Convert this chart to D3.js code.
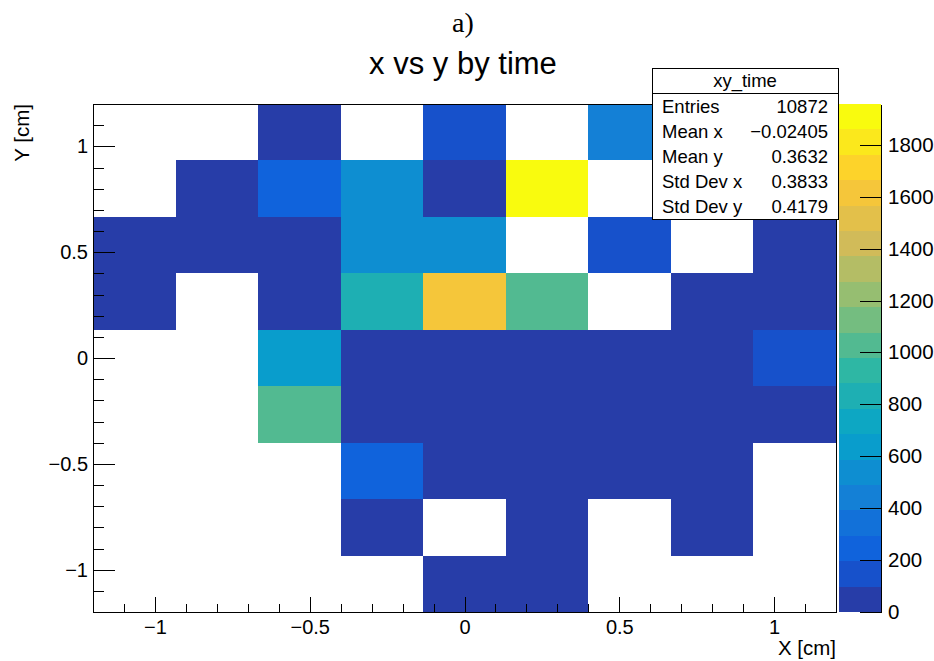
<!DOCTYPE html>
<html>
<head>
<meta charset="utf-8">
<script src="https://cdn.jsdelivr.net/npm/d3@7"></script>
<style>
  body { margin: 0; background: #fff; }
  text { font-family: "Liberation Sans", Arial, sans-serif; fill: #000; }
</style>
</head>
<body>
<div id="chart"></div>
<script>
// bin edges of the 2D histogram
var xBinEdges = [-1.2, -0.9333, -0.6667, -0.4, -0.1333, 0.1333, 0.4, 0.6667, 0.9333, 1.2];
var yBinEdges = [-1.2, -0.9333, -0.6667, -0.4, -0.1333, 0.1333, 0.4, 0.6667, 0.9333, 1.2];

// bin contents, rows from top (highest y) to bottom, columns left to right
var countsTopToBottom = [
  [0,    0,   38,    0,  160,    0,  455,  0,   0],
  [0,   55,  250,  540,   62, 1957,    0,  0,   0],
  [48,  71,   35,  555,  530,    0,  175,  0,  44],
  [60,   0,   52,  835, 1620, 1030,    0, 40,  28],
  [0,    0,  640,   30,   35,   26,   47, 33, 150],
  [0,    0, 1010,   38,   28,   25,   19, 30,  22],
  [0,    0,    0,  245,   21,   16,   19, 18,   0],
  [0,    0,    0,   25,    0,   11,    0, 14,   0],
  [0,    0,    0,    0,   20,   17,    0,  0,   0]
];

var xMajorTicks = [-1, -0.5, 0, 0.5, 1];
var yMajorTicks = [-1, -0.5, 0, 0.5, 1];
var zTicks = [0, 200, 400, 600, 800, 1000, 1200, 1400, 1600, 1800];
var zMax = 1957;
var nContours = 20;

// stats box
var statsTitle = "xy_time";
var statsLabels = ["Entries", "Mean x", "Mean y", "Std Dev x", "Std Dev y"];
var statsValues = ["10872", "\u22120.02405", "0.3632", "0.3833", "0.4179"];

// ROOT kBird palette
var birdStops = [0.0, 0.125, 0.25, 0.375, 0.5, 0.625, 0.75, 0.875, 1.0];
var birdRed   = [0.2082, 0.0592, 0.0780, 0.0232, 0.1802, 0.5301, 0.8186, 0.9956, 0.9764];
var birdGreen = [0.1664, 0.3599, 0.5041, 0.6419, 0.7178, 0.7492, 0.7328, 0.7862, 0.9832];
var birdBlue  = [0.5293, 0.8684, 0.8385, 0.7914, 0.6425, 0.4662, 0.3499, 0.1968, 0.0539];

var width = 934, height = 661;
var frame = { left: 93, right: 836, top: 104, bottom: 612 };
var paletteBox = { x1: 839, x2: 881 };

var svg = d3.select("#chart").append("svg")
  .attr("width", width)
  .attr("height", height);

svg.append("rect").attr("width", width).attr("height", height).attr("fill", "#fff");

var x = d3.scaleLinear().domain([-1.2, 1.2]).range([frame.left, frame.right]);
var y = d3.scaleLinear().domain([-1.2, 1.2]).range([frame.bottom, frame.top]);
var z = d3.scaleLinear().domain([0, zMax]).range([frame.bottom, frame.top]);

var bird = d3.scaleLinear()
  .domain(birdStops)
  .range(birdStops.map(function(s, i) {
    return d3.rgb(birdRed[i] * 255, birdGreen[i] * 255, birdBlue[i] * 255);
  }))
  .interpolate(d3.interpolateRgb);

function bandColor(k) {
  var idx = Math.floor((k + 0.99) * 255 / nContours);
  return bird(idx / 254);
}

function cellColor(v) {
  var k = Math.floor(v / zMax * nContours);
  if (k >= nContours) k = nContours - 1;
  return bandColor(k);
}

// flatten cells
var cells = [];
countsTopToBottom.forEach(function(row, r) {
  var iy = yBinEdges.length - 2 - r;
  row.forEach(function(v, ix) {
    if (v > 0) cells.push({ x0: xBinEdges[ix], x1: xBinEdges[ix + 1], y0: yBinEdges[iy], y1: yBinEdges[iy + 1], v: v });
  });
});

svg.append("g").selectAll("rect")
  .data(cells)
  .enter().append("rect")
  .attr("x", function(d) { return x(d.x0); })
  .attr("y", function(d) { return y(d.y1); })
  .attr("width", function(d) { return x(d.x1) - x(d.x0); })
  .attr("height", function(d) { return y(d.y0) - y(d.y1); })
  .attr("fill", function(d) { return cellColor(d.v); })
  .attr("shape-rendering", "crispEdges");

// frame
svg.append("rect")
  .attr("x", frame.left).attr("y", frame.top)
  .attr("width", frame.right - frame.left)
  .attr("height", frame.bottom - frame.top)
  .attr("fill", "none").attr("stroke", "#000").attr("stroke-width", 1)
  .attr("shape-rendering", "crispEdges");

var xMinor = x.ticks(24).filter(function(t) { return xMajorTicks.indexOf(+t.toFixed(2)) < 0; });
var yMinor = y.ticks(24).filter(function(t) { return yMajorTicks.indexOf(+t.toFixed(2)) < 0; });

var fmt = d3.format("~g");

// x axis
var xMinorAxis = svg.append("g")
  .attr("transform", "translate(0," + frame.bottom + ")")
  .call(d3.axisBottom(x).tickValues(xMinor).tickSize(-7.6).tickFormat(""));
var xAxis = svg.append("g")
  .attr("transform", "translate(0," + frame.bottom + ")")
  .call(d3.axisBottom(x).tickValues(xMajorTicks).tickSize(-15).tickPadding(8).tickFormat(fmt));

// y axis
var yMinorAxis = svg.append("g")
  .attr("transform", "translate(" + frame.left + ",0)")
  .call(d3.axisLeft(y).tickValues(yMinor).tickSize(-11).tickFormat(""));
var yAxis = svg.append("g")
  .attr("transform", "translate(" + frame.left + ",0)")
  .call(d3.axisLeft(y).tickValues(yMajorTicks).tickSize(-22).tickPadding(5).tickFormat(fmt));

[xMinorAxis, xAxis, yMinorAxis, yAxis].forEach(function(g) {
  g.select(".domain").remove();
  g.selectAll("line").attr("stroke", "#000").attr("shape-rendering", "crispEdges");
  g.selectAll("text").style("font-family", "Liberation Sans, Arial, sans-serif").style("font-size", "20px").attr("fill", "#000");
});

// palette
var bands = d3.range(nContours);
svg.append("g").selectAll("rect")
  .data(bands)
  .enter().append("rect")
  .attr("x", paletteBox.x1)
  .attr("width", paletteBox.x2 - paletteBox.x1)
  .attr("y", function(k) { return z((k + 1) * zMax / nContours); })
  .attr("height", function(k) { return z(k * zMax / nContours) - z((k + 1) * zMax / nContours); })
  .attr("fill", function(k) { return bandColor(k); })
  .attr("shape-rendering", "crispEdges");

var zAxis = svg.append("g")
  .attr("transform", "translate(" + paletteBox.x2 + ",0)")
  .call(d3.axisRight(z).tickValues(zTicks).tickSizeInner(-21).tickSizeOuter(0).tickPadding(7).tickFormat(d3.format("d")));
zAxis.selectAll("line, path").attr("stroke", "#000").attr("shape-rendering", "crispEdges");
zAxis.selectAll("text").style("font-family", "Liberation Sans, Arial, sans-serif").style("font-size", "20.5px").attr("fill", "#000");

// axis titles
svg.append("text")
  .attr("x", frame.right)
  .attr("y", 655)
  .attr("text-anchor", "end")
  .style("font-size", "20.5px")
  .text("X [cm]");

svg.append("text")
  .attr("transform", "translate(29," + frame.top + ") rotate(-90)")
  .attr("text-anchor", "end")
  .style("font-size", "20.5px")
  .text("Y [cm]");

// titles
svg.append("text")
  .attr("x", 463)
  .attr("y", 32)
  .attr("text-anchor", "middle")
  .style("font-family", "Liberation Serif, serif")
  .style("font-size", "28px")
  .text("a)");

svg.append("text")
  .attr("x", 463)
  .attr("y", 74)
  .attr("text-anchor", "middle")
  .style("font-size", "31px")
  .text("x vs y by time");

// stats box
var stats = svg.append("g");
stats.append("rect")
  .attr("x", 652).attr("y", 68)
  .attr("width", 186).attr("height", 151)
  .attr("fill", "#fff").attr("stroke", "#000")
  .attr("shape-rendering", "crispEdges");
stats.append("line")
  .attr("x1", 652).attr("x2", 838).attr("y1", 93).attr("y2", 93)
  .attr("stroke", "#000").attr("shape-rendering", "crispEdges");
stats.append("text")
  .attr("x", 745).attr("y", 87)
  .attr("text-anchor", "middle")
  .style("font-size", "18.5px")
  .text(statsTitle);
stats.selectAll("text.lab")
  .data(statsLabels)
  .enter().append("text")
  .attr("class", "lab")
  .attr("x", 662)
  .attr("y", function(d, i) { return 113 + i * 25; })
  .style("font-size", "18.5px")
  .text(function(d) { return d; });
stats.selectAll("text.val")
  .data(statsValues)
  .enter().append("text")
  .attr("class", "val")
  .attr("x", 828)
  .attr("y", function(d, i) { return 113 + i * 25; })
  .attr("text-anchor", "end")
  .style("font-size", "18.5px")
  .text(function(d) { return d; });
</script>
</body>
</html>
